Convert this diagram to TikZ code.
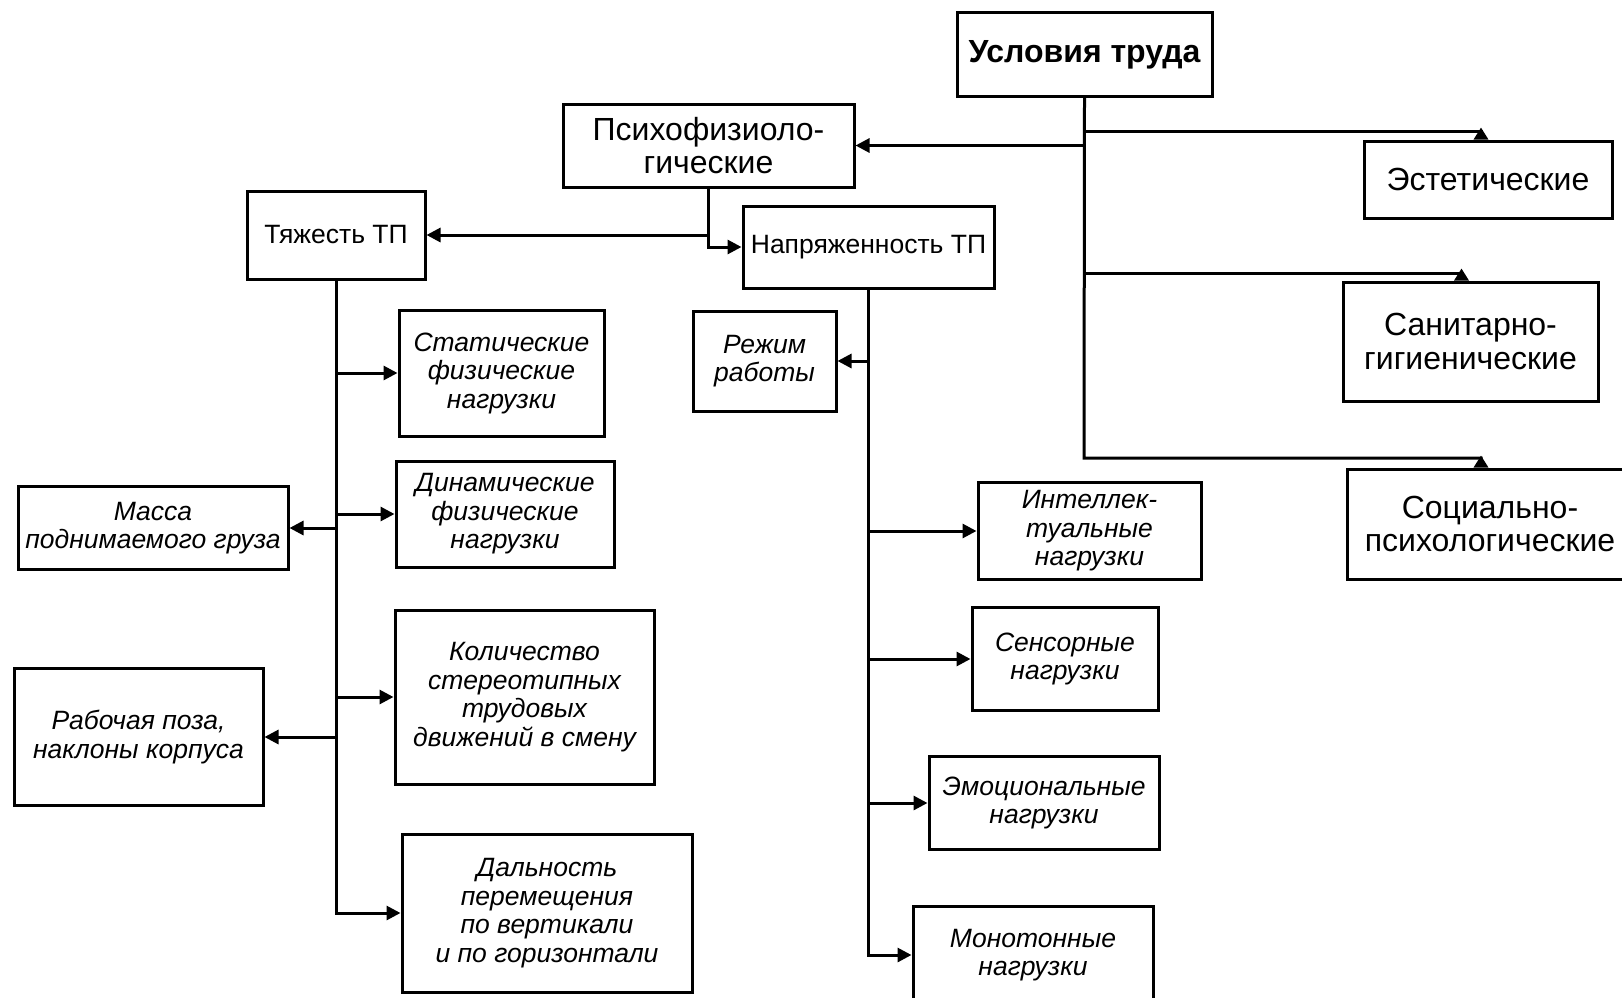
\documentclass[tikz,border=0pt]{standalone}
\usepackage{fontspec}
\setmainfont{Liberation Sans}
\usetikzlibrary{arrows.meta}
\begin{document}
\begin{tikzpicture}[x=1pt,y=-1pt,line width=3pt,
  box/.style={draw,inner sep=0pt,align=center,font=\fontsize{32}{33.5}\selectfont},
  sbox/.style={draw,inner sep=0pt,align=center,font=\fontsize{26.5}{28.5}\selectfont},
  ibox/.style={draw,inner sep=0pt,align=center,font=\fontsize{26.5}{28.5}\selectfont\itshape},
  arr/.style={-{Triangle[length=14pt,width=14pt]}},
  uparr/.style={-{Triangle[length=12pt,width=14pt,reversed]}}]
\useasboundingbox (0,0) rectangle (1622,998);
% top level
\node[box,font=\fontsize{32}{33.5}\selectfont\bfseries,minimum width=255,minimum height=83] (cond) at (1084.5,54.5) {Условия труда};
\node[box,minimum width=291,minimum height=83] (psy) at (708.5,145.5) {Психофизиоло-\\гические};
\node[box,minimum width=248,minimum height=77] (est) at (1488,179.5) {Эстетические};
\node[box,minimum width=255,minimum height=119] (san) at (1470.5,341.5) {Санитарно-\\гигиенические};
\node[box,minimum width=286,minimum height=110] (soc) at (1490,524) {Социально-\\психологические};
% second level
\node[sbox,minimum width=251,minimum height=82] (tens) at (868.5,247) {Напряженность ТП};
\node[sbox,minimum width=178,minimum height=88] (sev) at (336,235) {Тяжесть ТП};
% severity
\node[ibox,minimum width=205,minimum height=126] (stat) at (501.5,373) {Статические\\физические\\нагрузки};
\node[ibox,minimum width=218,minimum height=106] (dyn) at (505,514) {Динамические\\физические\\нагрузки};
\node[ibox,minimum width=270,minimum height=83] (mass) at (153,528) {Масса\\поднимаемого груза};
\node[ibox,minimum width=259,minimum height=174] (qty) at (524.5,697) {Количество\\стереотипных\\трудовых\\движений в смену};
\node[ibox,minimum width=249,minimum height=137] (pose) at (138.5,737) {Рабочая поза,\\наклоны корпуса};
\node[ibox,minimum width=290,minimum height=158] (dist) at (547,913) {Дальность\\перемещения\\по вертикали\\и по горизонтали};
% tension
\node[ibox,minimum width=143,minimum height=100] (mode) at (764.5,361) {Режим\\работы};
\node[ibox,minimum width=223,minimum height=97] (intel) at (1089.5,531) {Интеллек-\\туальные\\нагрузки};
\node[ibox,minimum width=186,minimum height=103] (sens) at (1065,659) {Сенсорные\\нагрузки};
\node[ibox,minimum width=230,minimum height=93] (emo) at (1044,803) {Эмоциональные\\нагрузки};
\node[ibox,minimum width=240,minimum height=98] (mono) at (1033,955) {Монотонные\\нагрузки};
% connectors from the top
\coordinate (cbot) at (1084,458);
\draw[uparr] (cond.south) -- (cbot) -| ([xshift=-9]soc.north);
\draw[uparr] (cond.south |- 0,131) -| ([xshift=-7]est.north);
\draw[uparr] (cond.south |- 0,273) -| ([xshift=-9]san.north);
\draw[arr] (cond.south |- psy.east) -- (psy.east);
\draw[arr] (psy.south) |- (tens.west);
\draw[arr] (psy.south |- sev.east) -- (sev.east);
% severity branch
\draw[arr] (sev.south) |- (dist.west);
\draw[arr] (sev.south |- stat.west) -- (stat.west);
\draw[arr] (sev.south |- dyn.west) -- (dyn.west);
\draw[arr] (sev.south |- qty.west) -- (qty.west);
\draw[arr] (sev.south |- mass.east) -- (mass.east);
\draw[arr] (sev.south |- pose.east) -- (pose.east);
% tension branch
\draw[arr] (tens.south) |- (mono.west);
\draw[arr] (tens.south |- mode.east) -- (mode.east);
\draw[arr] (tens.south |- intel.west) -- (intel.west);
\draw[arr] (tens.south |- sens.west) -- (sens.west);
\draw[arr] (tens.south |- emo.west) -- (emo.west);
\end{tikzpicture}
\end{document}
